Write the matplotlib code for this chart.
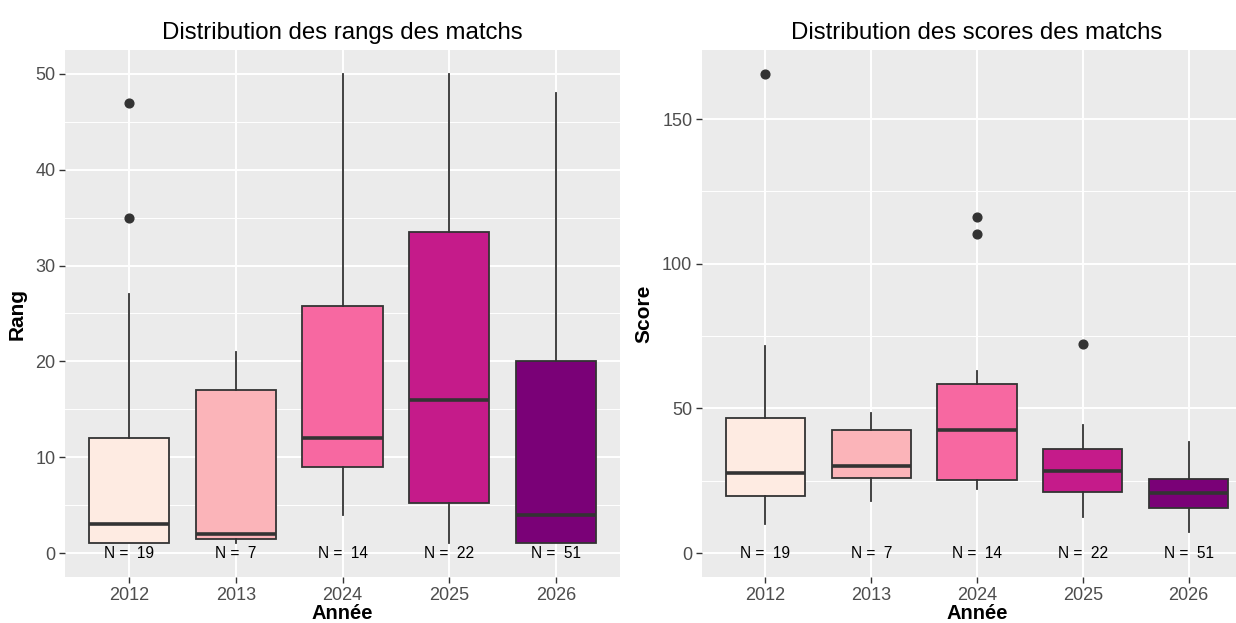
import matplotlib
matplotlib.use("Agg")
import matplotlib.pyplot as plt
from matplotlib.ticker import MultipleLocator

plt.rcParams['font.family'] = ['Liberation Sans', 'DejaVu Sans']

annees = ['2012', '2013', '2024', '2025', '2026']
effectifs = [19, 7, 14, 22, 51]
couleurs = ['#FEEBE2', '#FBB4B9', '#F768A1', '#C51B8A', '#7A0177']

# rangs des matchs : quartiles, moustaches, valeurs extremes
rang_bas = [1, 1, 4, 1, 1]
rang_q1 = [1, 1.5, 9, 5.25, 1]
rang_med = [3, 2, 12, 16, 4]
rang_q3 = [12, 17, 25.75, 33.5, 20]
rang_haut = [27, 21, 50, 50, 48]
rang_ext = [[35, 47], [], [], [], []]

# scores des matchs
score_bas = [10, 18, 22.3, 12.5, 7.3]
score_q1 = [19.7, 26.1, 25.2, 21.1, 15.6]
score_med = [27.5, 30.1, 42.5, 28.5, 20.9]
score_q3 = [46.6, 42.5, 58.6, 36.1, 25.5]
score_haut = [71.5, 48.5, 63, 44.4, 38.5]
score_ext = [[165.6], [], [110.2, 116.1], [72.3], []]

gris = '#333333'


def panneau(ax, bas, q1, med, q3, haut, ext, ymax, pas, titre, ylabel):
    stats = []
    for i in range(len(annees)):
        stats.append(dict(whislo=bas[i], q1=q1[i], med=med[i], q3=q3[i],
                          whishi=haut[i], fliers=ext[i]))
    pos = list(range(1, len(annees) + 1))
    bp = ax.bxp(stats, positions=pos, widths=0.75, patch_artist=True,
                showcaps=False,
                boxprops=dict(edgecolor=gris, linewidth=1.3),
                medianprops=dict(color=gris, linewidth=2.6, solid_capstyle='butt'),
                whiskerprops=dict(color=gris, linewidth=1.3),
                flierprops=dict(marker='o', markersize=6.3, markerfacecolor=gris,
                                markeredgecolor=gris))
    for patch, c in zip(bp['boxes'], couleurs):
        patch.set_facecolor(c)

    for x, n in zip(pos, effectifs):
        ax.text(x, 0, f'N =  {n}', ha='center', va='center', fontsize=11.2,
                color='black', zorder=5)

    ax.set_facecolor('#EBEBEB')
    ax.set_axisbelow(True)
    for s in ax.spines.values():
        s.set_visible(False)
    ax.set_xlim(0.4, len(annees) + 0.6)
    ax.set_ylim(-0.05 * ymax, 1.05 * ymax)
    ax.set_xticks(pos)
    ax.set_xticklabels(annees)
    ax.yaxis.set_major_locator(MultipleLocator(pas))
    ax.yaxis.set_minor_locator(MultipleLocator(pas / 2))
    ax.grid(which='major', color='white', linewidth=1.4)
    ax.grid(which='minor', axis='y', color='white', linewidth=0.7)
    ax.tick_params(which='major', length=4, width=1, color=gris,
                   labelcolor='#4D4D4D', labelsize=13, pad=3)
    ax.tick_params(which='minor', length=0)
    ax.set_title(titre, fontsize=17.3, pad=8)
    ax.set_xlabel('Année', fontsize=14.5, fontweight='bold', labelpad=0)
    ax.set_ylabel(ylabel, fontsize=15, fontweight='bold', labelpad=6)


fig = plt.figure(figsize=(12.36, 6.23), dpi=100)
ax1 = fig.add_axes([65 / 1236, 1 - 577 / 623, 555 / 1236, 527 / 623])
ax2 = fig.add_axes([702 / 1236, 1 - 577 / 623, 550 / 1236, 527 / 623])

panneau(ax1, rang_bas, rang_q1, rang_med, rang_q3, rang_haut, rang_ext,
        50, 10, 'Distribution des rangs des matchs', 'Rang')
panneau(ax2, score_bas, score_q1, score_med, score_q3, score_haut, score_ext,
        165.6, 50, 'Distribution des scores des matchs', 'Score')

fig.savefig('out.png', dpi=100)
